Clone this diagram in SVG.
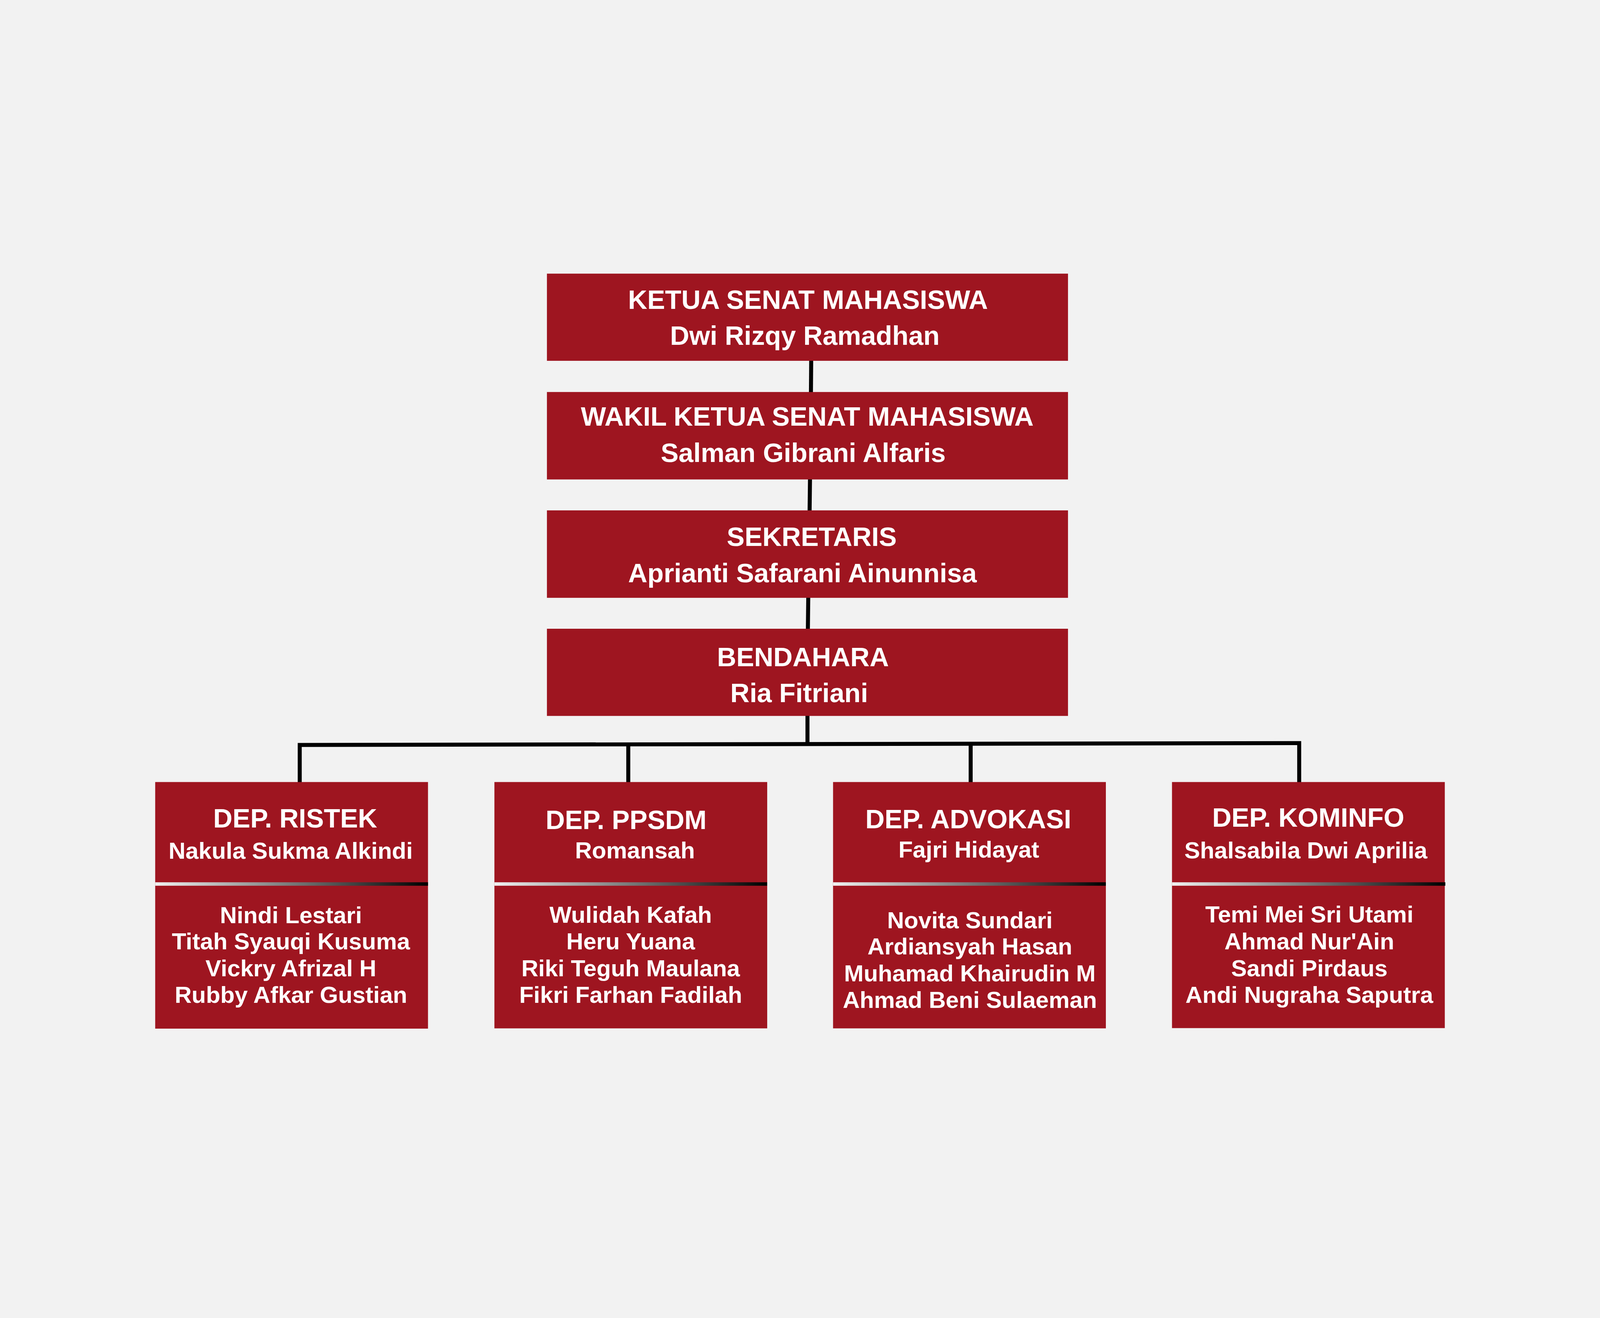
<svg xmlns="http://www.w3.org/2000/svg" width="6000" height="3375" viewBox="0 0 6000 3375" style="max-width:100vw;max-height:100vh;background:#f2f2f2">
  <defs>
    <linearGradient id="sep" x1="0" y1="0" x2="1" y2="0">
      <stop offset="0" stop-color="#f0f0f0"/>
      <stop offset="1" stop-color="#000000"/>
    </linearGradient>
    <style>
      .box { fill: #9e1520; }
      .sep { fill: url(#sep); }
      .conn { fill: none; stroke: #000000; stroke-width: 15; stroke-linejoin: miter; stroke-linecap: butt; }
      text { font-family: "Liberation Sans", Arial, sans-serif; font-weight: bold; fill: #ffffff; text-anchor: middle; }
      .t100 { font-size: 100px; }
      .t88 { font-size: 88px; }
    </style>
  </defs>
  <rect x="0" y="0" width="6000" height="3375" fill="#f2f2f2"/>

  <g id="connectors">
    <line class="conn" x1="3042" y1="566" x2="3041" y2="690"/>
    <line class="conn" x1="3037.5" y1="1010" x2="3036" y2="1134"/>
    <line class="conn" x1="3031" y1="1454" x2="3029.5" y2="1578"/>
    <line class="conn" x1="3028" y1="1897" x2="3028" y2="2006"/>
    <path class="conn" d="M1124,2153 L1124,2010 L4872,2003 L4872,2153"/>
    <line class="conn" x1="2356" y1="2007.7" x2="2356" y2="2153"/>
    <line class="conn" x1="3640" y1="2005.3" x2="3640" y2="2153"/>
  </g>

  <g id="ketua">
    <rect class="box" x="2051" y="242" width="1954" height="327"/>
    <text class="t100" x="3030" y="374">KETUA SENAT MAHASISWA</text>
    <text class="t100" x="3018" y="509">Dwi Rizqy Ramadhan</text>
  </g>

  <g id="wakil">
    <rect class="box" x="2051" y="686" width="1954" height="328"/>
    <text class="t100" x="3027" y="812">WAKIL KETUA SENAT MAHASISWA</text>
    <text class="t100" x="3012" y="949">Salman Gibrani Alfaris</text>
  </g>

  <g id="sekretaris">
    <rect class="box" x="2051" y="1130" width="1954" height="328"/>
    <text class="t100" x="3044" y="1264">SEKRETARIS</text>
    <text class="t100" x="3009" y="1400">Aprianti Safarani Ainunnisa</text>
  </g>

  <g id="bendahara">
    <rect class="box" x="2051" y="1574" width="1954" height="327"/>
    <text class="t100" x="3011" y="1715">BENDAHARA</text>
    <text class="t100" x="2997" y="1850">Ria Fitriani</text>
  </g>

  <g id="dep-ristek">
    <rect class="box" x="582" y="2149" width="1023" height="925"/>
    <rect class="sep" x="582" y="2525" width="1023" height="13"/>
    <text class="t100" x="1107" y="2320">DEP. RISTEK</text>
    <text class="t88" x="1090" y="2437">Nakula Sukma Alkindi</text>
    <text class="t88" x="1091" y="2678">Nindi Lestari</text>
    <text class="t88" x="1091" y="2777">Titah Syauqi Kusuma</text>
    <text class="t88" x="1091" y="2877">Vickry Afrizal H</text>
    <text class="t88" x="1091" y="2977">Rubby Afkar Gustian</text>
  </g>

  <g id="dep-ppsdm">
    <rect class="box" x="1854" y="2149" width="1023" height="924"/>
    <rect class="sep" x="1854" y="2525" width="1023" height="13"/>
    <text class="t100" x="2348" y="2325">DEP. PPSDM</text>
    <text class="t88" x="2381" y="2435">Romansah</text>
    <text class="t88" x="2365" y="2677">Wulidah Kafah</text>
    <text class="t88" x="2365" y="2777">Heru Yuana</text>
    <text class="t88" x="2365" y="2877">Riki Teguh Maulana</text>
    <text class="t88" x="2365" y="2977">Fikri Farhan Fadilah</text>
  </g>

  <g id="dep-advokasi">
    <rect class="box" x="3124" y="2149" width="1023" height="924"/>
    <rect class="sep" x="3124" y="2525" width="1023" height="13"/>
    <text class="t100" x="3631" y="2323">DEP. ADVOKASI</text>
    <text class="t88" x="3633" y="2432">Fajri Hidayat</text>
    <text class="t88" x="3637" y="2697">Novita Sundari</text>
    <text class="t88" x="3637" y="2796">Ardiansyah Hasan</text>
    <text class="t88" x="3637" y="2897">Muhamad Khairudin M</text>
    <text class="t88" x="3637" y="2996">Ahmad Beni Sulaeman</text>
  </g>

  <g id="dep-kominfo">
    <rect class="box" x="4395" y="2149" width="1023" height="923"/>
    <rect class="sep" x="4395" y="2525" width="1025" height="13"/>
    <text class="t100" x="4906" y="2316">DEP. KOMINFO</text>
    <text class="t88" x="4897" y="2436">Shalsabila Dwi Aprilia</text>
    <text class="t88" x="4910" y="2675">Temi Mei Sri Utami</text>
    <text class="t88" x="4910" y="2777">Ahmad Nur'Ain</text>
    <text class="t88" x="4910" y="2877">Sandi Pirdaus</text>
    <text class="t88" x="4910" y="2977">Andi Nugraha Saputra</text>
  </g>
</svg>
